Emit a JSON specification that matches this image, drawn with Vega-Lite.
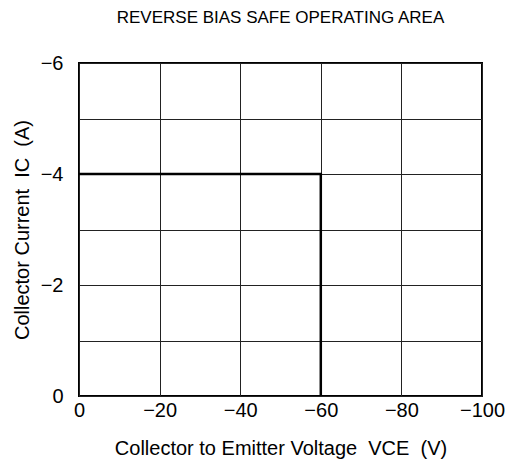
{
  "$schema": "https://vega.github.io/schema/vega-lite/v6.json",
  "width": 403,
  "height": 333,
  "autosize": {"type": "none"},
  "padding": {"left": 79, "top": 63, "right": 24, "bottom": 66},
  "background": "white",
  "title": {
    "text": "REVERSE BIAS SAFE OPERATING AREA",
    "font": "Liberation Sans",
    "fontSize": 17,
    "fontWeight": "normal",
    "color": "black",
    "anchor": "middle",
    "offset": 26
  },
  "config": {
    "view": {"stroke": "black", "strokeWidth": 2},
    "axis": {
      "labelFont": "Liberation Sans",
      "titleFont": "Liberation Sans",
      "labelColor": "black",
      "titleColor": "black",
      "labelFontSize": 20,
      "titleFontSize": 20,
      "titleFontWeight": "normal",
      "domain": false,
      "ticks": false,
      "gridColor": "#222",
      "gridWidth": 1,
      "gridOpacity": 1
    }
  },
  "data": {
    "values": [
      {"vce": 0, "ic": -4, "order": 1},
      {"vce": -60, "ic": -4, "order": 2},
      {"vce": -60, "ic": 0, "order": 3}
    ]
  },
  "mark": {"type": "line", "color": "black", "strokeWidth": 2.5, "clip": true},
  "encoding": {
    "x": {
      "field": "vce",
      "type": "quantitative",
      "scale": {"domain": [0, -100], "nice": false, "zero": false},
      "axis": {
        "values": [0, -20, -40, -60, -80, -100],
        "title": "Collector to Emitter Voltage\u00a0\u00a0VCE\u00a0\u00a0(V)",
        "labelPadding": 4,
        "titlePadding": 18,
        "labelFlush": false
      }
    },
    "y": {
      "field": "ic",
      "type": "quantitative",
      "scale": {"domain": [0, -6], "nice": false, "zero": false},
      "axis": {
        "values": [0, -1, -2, -3, -4, -5, -6],
        "labelExpr": "datum.value % 2 == 0 ? datum.label : ''",
        "title": "Collector Current\u00a0\u00a0IC\u00a0\u00a0(A)",
        "labelPadding": 16,
        "titlePadding": 8,
        "labelFlush": false
      }
    },
    "order": {"field": "order", "type": "quantitative"}
  }
}
